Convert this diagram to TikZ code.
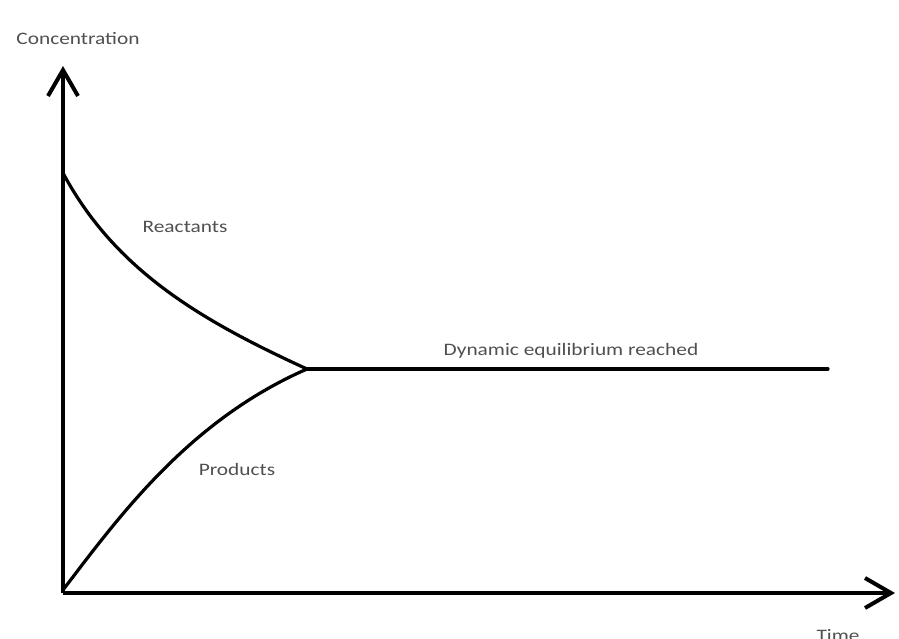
\documentclass[tikz,border=0pt]{standalone}
\usepackage{fontspec}
\setmainfont{Carlito}
\usetikzlibrary{arrows.meta}
\definecolor{lbl}{HTML}{505050}
\begin{document}
\begin{tikzpicture}[x=1pt,y=-1pt,
  axis/.style={line width=4pt,-{Straight Barb[length=26pt,width=30pt,line width=4pt]}},
  curve/.style={line width=3.2pt,line cap=round},
  lab/.style={text=lbl,font=\fontsize{17.5}{20}\selectfont,inner sep=0pt,xscale=1.22}]
\useasboundingbox (0,0) rectangle (899,638);
\fill[white] (0,0) rectangle (899,638);
\coordinate (O) at (63,593);
\coordinate (ytip) at (63,66);
\coordinate (xtip) at (895,593);
\coordinate (R0) at (63,173);
\coordinate (E) at (307,369);
\coordinate (Eend) at (828,369);
\draw[axis] (O) -- (ytip);
\draw[axis] (O) -- (xtip);
\draw[curve] (R0) .. controls (115,270) and (200,320) .. (E);
\draw[curve] (63,590) .. controls (120,515) and (190,420) .. (E);
\draw[curve] (E) -- (Eend);
\node[lab] (conc) at (78,39) {Concentration};
\node[lab,anchor=base] (time) at (838,641) {Time};
\node[lab] (react) at (185,227) {Reactants};
\node[lab] (prod) at (237,469) {Products};
\node[lab] (dyn) at (571,351) {Dynamic equilibrium reached};
\end{tikzpicture}
\end{document}
